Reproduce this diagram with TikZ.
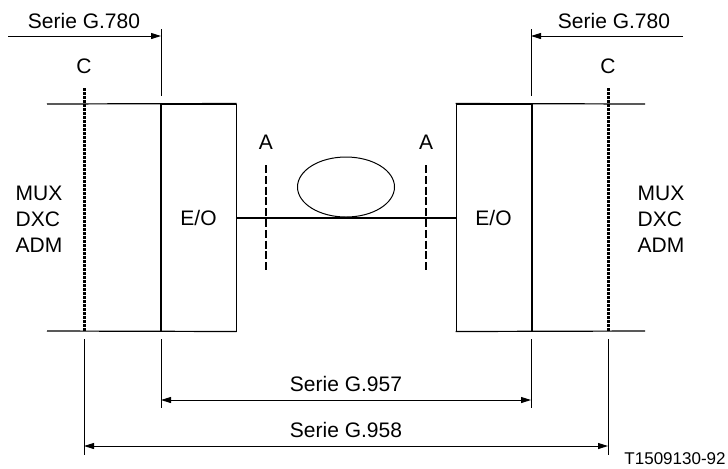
\documentclass[tikz,border=0pt]{standalone}
\usepackage{fontspec}
\setmainfont{Liberation Sans}
\usetikzlibrary{arrows.meta, positioning, shapes.geometric, calc}

\begin{document}
\begin{tikzpicture}[x=0.5pt, y=-0.5pt, font=\fontsize{10.5}{13}\selectfont,
    thinline/.style={line width=0.5pt},
    thickline/.style={line width=1pt},
    eobox/.style={rectangle, draw, line width=0.5pt, minimum width=37.5pt, minimum height=113.5pt, inner sep=0pt},
    refline/.style={line width=1.5pt, dash pattern=on 1.25pt off 0.75pt},
    optline/.style={line width=0.8pt, dash pattern=on 4pt off 1.4pt},
    tip/.style={-{Triangle[length=5pt,width=3pt]}},
    dimline/.style={line width=0.5pt, {Triangle[length=5pt,width=3pt]}-{Triangle[length=5pt,width=3pt]}}]
    \useasboundingbox (0,0) rectangle (728,468);

    % E/O boxes
    \node[eobox] (eoL) at (198.5,217.5) {E/O};
    \node[eobox] (eoR) at (493.5,217.5) {E/O};

    % Equipment frame
    \coordinate (frTL) at (47,104);
    \coordinate (frBL) at (47,331);
    \coordinate (frTR) at (645,104);
    \coordinate (frBR) at (645,331);
    \draw[line width=0.6pt] (frTL) -- (eoL.north east) (frBL) -- (eoL.south east);
    \draw[line width=0.6pt] (eoR.north west) -- (frTR) (eoR.south west) -- (frBR);
    \draw[thickline] (eoL.north west) -- (eoL.south west);
    \draw[thickline] (eoR.north east) -- (eoR.south east);

    % Reference points C
    \node (cL) at (84,66) {C};
    \node (cR) at (608,66) {C};
    \coordinate (cLtop) at (84,88);   \coordinate (cLbot) at (84,331);
    \coordinate (cRtop) at (608,88);  \coordinate (cRbot) at (608,331);
    \draw[refline] (cLtop) -- (cLbot);
    \draw[refline] (cRtop) -- (cRbot);

    % Equipment names
    \node[align=left] (muxL) at (39,219) {MUX\\DXC\\ADM};
    \node[align=left] (muxR) at (661,219) {MUX\\DXC\\ADM};

    % Fibre with coil
    \draw[thickline] (eoL.east) -- coordinate (mid) (eoR.west);
    \node[draw, thinline, ellipse, minimum width=48.5pt, minimum height=30pt, inner sep=0pt, above=0pt of mid] (coil) {};

    % Reference points A
    \node (aL) at (266,142) {A};
    \node (aR) at (426,142) {A};
    \coordinate (aLtop) at (266,165);  \coordinate (aLbot) at (266,270);
    \coordinate (aRtop) at (426,165);  \coordinate (aRbot) at (426,270);
    \draw[optline] (aLtop) -- (aLbot);
    \draw[optline] (aRtop) -- (aRbot);

    % Serie G.780
    \coordinate (g780Ls) at (8,36);    \coordinate (g780Le) at (161,36);
    \coordinate (g780Rs) at (683,36);  \coordinate (g780Re) at (531,36);
    \draw[thinline, tip] (g780Ls) -- (g780Le);
    \draw[thinline, tip] (g780Rs) -- (g780Re);
    \draw[thinline] (161,29) -- (161,96);
    \draw[thinline] (531,29) -- (531,96);
    \node (g780L) at (84,21) {Serie G.780};
    \node (g780R) at (614,21) {Serie G.780};

    % Extension lines
    \draw[thinline] (84,339) -- (84,455);
    \draw[thinline] (161,339) -- (161,408);
    \draw[thinline] (531,339) -- (531,408);
    \draw[thinline] (608,339) -- (608,455);

    % Serie G.957 / G.958
    \coordinate (g957s) at (161,400);  \coordinate (g957e) at (531,400);
    \coordinate (g958s) at (84,446);   \coordinate (g958e) at (608,446);
    \draw[dimline] (g957s) -- (g957e);
    \draw[dimline] (g958s) -- (g958e);
    \node (g957) at (346,384) {Serie G.957};
    \node (g958) at (346,430) {Serie G.958};

    % Figure number
    \node[anchor=east, inner sep=0pt, font=\fontsize{8.5}{10}\selectfont] (fignum) at (726,459) {T1509130-92};
\end{tikzpicture}
\end{document}
